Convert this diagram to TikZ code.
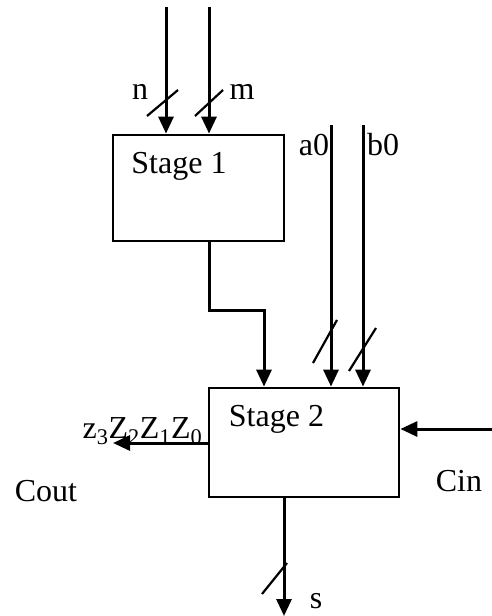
\documentclass[tikz,border=0pt]{standalone}
\usepackage{fontspec}
\setmainfont{Liberation Serif}
\usepackage{tikz}
\usetikzlibrary{arrows.meta, positioning, calc}

\begin{document}
\begin{tikzpicture}[
		x=1pt, y=-1pt,
		font=\fontsize{32}{37}\selectfont,
		wire/.style={line width=3pt},
		sig/.style={wire, -{Triangle[length=17pt,width=15pt]}},
		busmark/.style={line width=2.2pt},
		blk/.style={draw, line width=2.8pt, inner sep=0pt},
		lab/.style={inner sep=0pt}
		]
		
		\useasboundingbox (0,0) rectangle (492,616);
		
		% Blocks
		\node[blk, minimum width=171pt, minimum height=106pt] (S1) at (198.5,188) {};
		\node[blk, minimum width=190pt, minimum height=109pt] (S2) at (304,442.5) {};
		\node[lab] (S1txt) at (179,166) {Stage 1};
		\node[lab] (S2txt) at (276.5,419) {Stage 2};
		
		% Free ends of the wires
		\coordinate (nin) at (166,7);
		\coordinate (min) at (209,7);
		\coordinate (ain) at (331,125);
		\coordinate (bin) at (363,125);
		\coordinate (bend) at (264,310);
		\coordinate (cin) at (492,429);
		\coordinate (zout) at (113,443);
		\coordinate (sout) at (284,616);
		
		% Inputs of stage 1
		\draw[sig] (nin) -- (nin |- S1.north);
		\draw[sig] (min) -- (min |- S1.north);
		
		% Stage 1 -> Stage 2
		\draw[sig] (min |- S1.south) |- (bend) -- (bend |- S2.north);
		
		% Inputs of stage 2
		\draw[sig] (ain) -- (ain |- S2.north);
		\draw[sig] (bin) -- (bin |- S2.north);
		\draw[sig] (cin) -- (cin -| S2.east);
		
		% Outputs of stage 2
		\draw[sig] (S2.west |- zout) -- (zout);
		\draw[sig] (sout |- S2.south) -- (sout);
		
		% Bus width marks
		\foreach \x/\y/\u/\v in {147/116/178/90, 195/116/223/90,
			313/363/337/320, 349/371/376/328, 262/594/287/563}
		\draw[busmark] (\x,\y) -- (\u,\v);
		
		% Labels
		\node[lab] (nlab) at (140,92) {n};
		\node[lab] (mlab) at (242,92) {m};
		\node[lab] (alab) at (314,145) {a0};
		\node[lab] (blab) at (383,145) {b0};
		\node[lab] (zlab) at (142.5,431) {z\textsubscript{3}Z\textsubscript{2}Z\textsubscript{1}Z\textsubscript{0}};
		\node[lab] (coutlab) at (46,491) {Cout};
		\node[lab] (cinlab) at (459,481) {Cin};
		\node[lab] (slab) at (316,601) {s};
		
	\end{tikzpicture}
\end{document}
